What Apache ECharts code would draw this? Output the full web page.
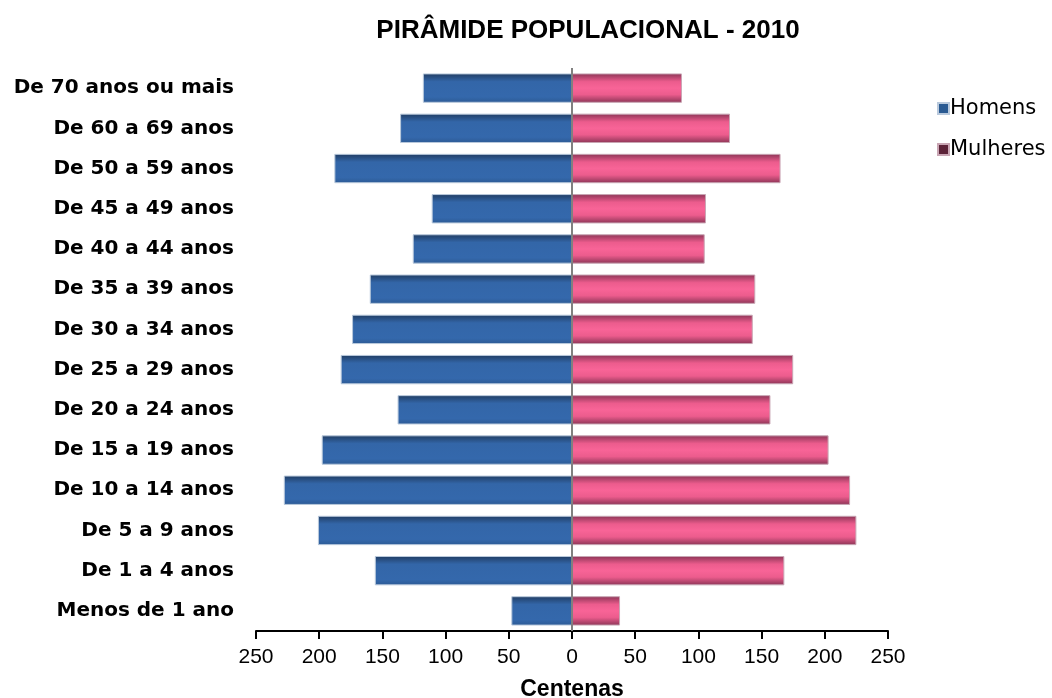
<!DOCTYPE html>
<html>
<head>
<meta charset="utf-8">
<script src="https://cdn.jsdelivr.net/npm/echarts@6/dist/echarts.min.js"></script>
<style>
  html, body { margin: 0; padding: 0; background: #fff; }
  #chart { width: 1052px; height: 698px; }
</style>
</head>
<body>
<div id="chart"></div>
<script>
// faixas etarias, de cima para baixo
var faixas = [
  'De 70 anos ou mais', 'De 60 a 69 anos', 'De 50 a 59 anos', 'De 45 a 49 anos',
  'De 40 a 44 anos', 'De 35 a 39 anos', 'De 30 a 34 anos', 'De 25 a 29 anos',
  'De 20 a 24 anos', 'De 15 a 19 anos', 'De 10 a 14 anos', 'De 5 a 9 anos',
  'De 1 a 4 anos', 'Menos de 1 ano'
];
// centenas
var homens = [118, 136, 188, 111, 126, 160, 174, 183, 138, 198, 228, 201, 156, 48];
var mulheres = [87, 125, 165, 106, 105, 145, 143, 175, 157, 203, 220, 225, 168, 38];
var ticksX = [-250, -200, -150, -100, -50, 0, 50, 100, 150, 200, 250];

var chart = echarts.init(document.getElementById('chart'));

var gradAzul = new echarts.graphic.LinearGradient(0, 0, 0, 1, [
  { offset: 0, color: '#203c62' },
  { offset: 0.28, color: '#3366a8' },
  { offset: 0.8, color: '#3468ac' },
  { offset: 1, color: '#2c5a94' }
]);
var gradRosa = new echarts.graphic.LinearGradient(0, 0, 0, 1, [
  { offset: 0, color: '#8a3455' },
  { offset: 0.28, color: '#ec5c8d' },
  { offset: 0.5, color: '#f86497' },
  { offset: 0.72, color: '#ec5c8d' },
  { offset: 1, color: '#8a3455' }
]);

chart.setOption({
  animation: false,
  textStyle: { fontFamily: 'Liberation Sans, Arial, sans-serif' },
  title: {
    text: 'PIRÂMIDE POPULACIONAL - 2010',
    left: 583,
    textAlign: 'center',
    top: 13,
    textStyle: { fontSize: 26, fontWeight: 'bold', color: '#000' }
  },
  legend: {
    orient: 'vertical',
    left: 932,
    top: 93,
    itemWidth: 11,
    itemHeight: 11,
    itemGap: 20,
    icon: 'rect',
    textStyle: {
      fontFamily: 'DejaVu Sans', fontSize: 21, color: '#000', padding: [0, 0, 0, -4]
    },
    data: [
      { name: 'Homens', itemStyle: { color: '#2a5a92' } },
      { name: 'Mulheres', itemStyle: { color: '#5c2338' } }
    ]
  },
  grid: { left: 256, right: 164, top: 68, bottom: 67, outerBoundsMode: 'none' },
  xAxis: {
    type: 'value',
    min: -250,
    max: 250,
    interval: 50,
    splitLine: { show: false },
    axisLine: { show: true, lineStyle: { color: '#000', width: 2 } },
    axisTick: { show: true, length: 8, lineStyle: { color: '#000', width: 2 } },
    axisLabel: {
      fontSize: 21, color: '#000', margin: 16,
      formatter: function (v) { return ticksX.indexOf(v) >= 0 ? String(Math.abs(v)) : ''; }
    },
    name: 'Centenas',
    nameLocation: 'middle',
    nameGap: 47,
    nameTextStyle: { fontSize: 23, fontWeight: 'bold', color: '#000' }
  },
  yAxis: {
    type: 'category',
    inverse: true,
    data: faixas,
    axisLine: { show: false },
    axisTick: { show: false },
    axisLabel: {
      fontFamily: 'DejaVu Sans', fontSize: 20, fontWeight: 'bold', color: '#000', margin: 22
    }
  },
  series: [
    {
      name: 'Homens',
      type: 'bar',
      stack: 'pop',
      barWidth: '73%',
      data: homens.map(function (v) { return -v; }),
      itemStyle: { color: gradAzul, borderColor: '#b9c9dc', borderWidth: 1 },
      markLine: {
        silent: true,
        symbol: 'none',
        label: { show: false },
        lineStyle: { color: '#808080', width: 2, type: 'solid' },
        data: [{ xAxis: 0 }]
      }
    },
    {
      name: 'Mulheres',
      type: 'bar',
      stack: 'pop',
      barWidth: '73%',
      data: mulheres,
      itemStyle: { color: gradRosa, borderColor: '#c9a6b4', borderWidth: 1 }
    }
  ]
});
</script>
</body>
</html>
